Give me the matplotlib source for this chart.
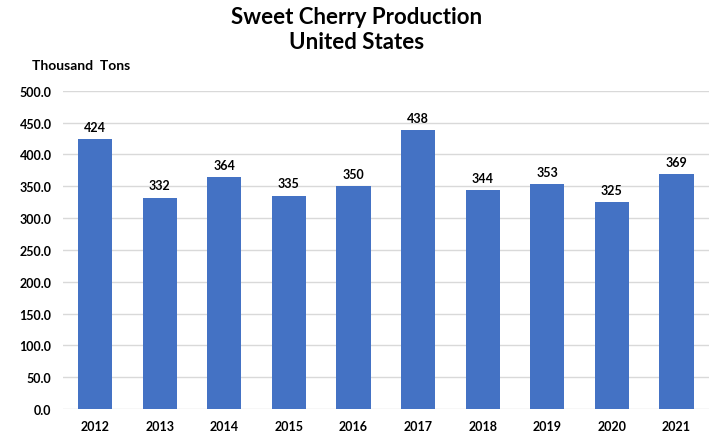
import matplotlib
matplotlib.use("Agg")
import matplotlib.pyplot as plt

years = ['2012', '2013', '2014', '2015', '2016', '2017', '2018', '2019', '2020', '2021']
production = [424, 332, 364, 335, 350, 438, 344, 353, 325, 369]
yticks = [0, 50, 100, 150, 200, 250, 300, 350, 400, 450, 500]

plt.rcParams['font.family'] = ['Lato', 'DejaVu Sans']

fig = plt.figure(figsize=(7.13, 4.35), dpi=100)
ax = fig.add_axes([0.088, 0.0575, 0.906, 0.7315])

x = range(len(years))
bars = ax.bar(x, production, width=0.53, color='#4472C4', zorder=3)

# value labels over each bar
for xi, v in zip(x, production):
    ax.text(xi, v + 10, str(v), ha='center', va='bottom', fontsize=9, fontweight='bold')

ax.set_xlim(-0.5, len(years) - 0.5)
ax.set_ylim(0, 500)
ax.set_xticks(list(x))
ax.set_xticklabels(years, fontsize=9, fontweight='bold')
ax.set_yticks(yticks)
ax.set_yticklabels([f'{t:.1f}' for t in yticks], fontsize=9, fontweight='bold')
ax.tick_params(length=0, pad=8)
ax.yaxis.grid(True, color='#d9d9d9', linewidth=1, zorder=0)
for s in ax.spines.values():
    s.set_visible(False)

fig.text(0.5, 0.931, 'Sweet Cherry Production\nUnited States', ha='center', va='center',
         fontsize=16, fontweight='bold', linespacing=1.25)
fig.text(0.045, 0.848, 'Thousand  Tons', ha='left', va='center', fontsize=10, fontweight='bold')

fig.savefig('out.png', dpi=100)
